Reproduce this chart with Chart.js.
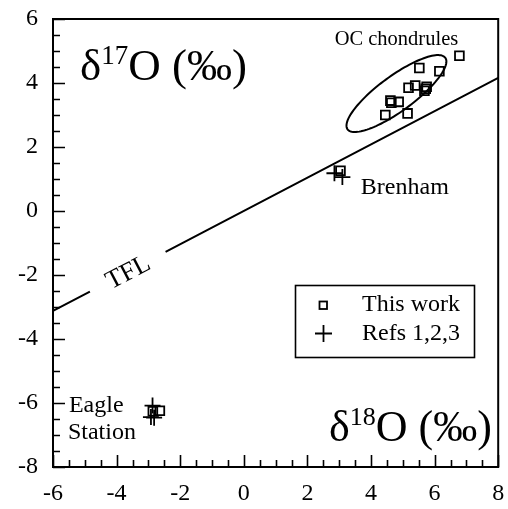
<!DOCTYPE html>
<html>
<head>
<meta charset="utf-8">
<script src="https://cdn.jsdelivr.net/npm/chart.js@4.4.0/dist/chart.umd.min.js"></script>
<style>
html,body{margin:0;padding:0;background:#fff;}
#wrap{width:508px;height:509px;}
</style>
</head>
<body>
<div id="wrap"><canvas id="c" width="508" height="509"></canvas></div>
<script>
// ---- data ----
const thisWorkX = [6.78, 5.52, 6.15, 5.18, 5.39, 5.75, 5.68, 5.72, 4.61, 4.64, 4.87, 4.45, 5.15, 3.04, -2.86, -2.64];
const thisWorkY = [4.85, 4.47, 4.37, 3.85, 3.92, 3.88, 3.76, 3.82, 3.45, 3.38, 3.41, 3.00, 3.05, 1.26, -6.26, -6.24];
const refsX = [2.85, 3.10, -2.87, -2.92, -2.82];
const refsY = [1.18, 1.06, -6.08, -6.44, -6.46];
// Terrestrial fractionation line (broken where the "TFL" label sits)
const tflX = [-6, -4.84, null, -2.46, 8];
const tflY = [-3.12, -2.52, null, -1.28, 4.16];
const xTickValues = [-6, -4, -2, 0, 2, 4, 6, 8];
const yTickValues = [-8, -6, -4, -2, 0, 2, 4, 6];
const seriesNames = ['This work', 'Refs 1,2,3'];
// OC chondrule field ellipse (data units)
const ellipseCenter = [4.80, 3.67];
const ellipseAxes = [1.9, 0.55];
const ellipseAngleDeg = 36;

const FONT = "'Liberation Serif', 'Times New Roman', serif";

const pts = (xs, ys) => xs.map((x, i) => ({x: x, y: ys[i]}));
const tflData = tflX.map((x, i) => x === null ? {x: -3.6, y: null} : {x: x, y: tflY[i]});

function deltaLabel(ctx, x, y, digits, size) {
  ctx.save();
  ctx.fillStyle = '#000';
  ctx.textAlign = 'left';
  ctx.textBaseline = 'alphabetic';
  ctx.font = size + 'px ' + FONT;
  ctx.fillText('\u03B4', x, y);
  let w = ctx.measureText('\u03B4').width;
  const sSize = Math.round(size * 0.6);
  ctx.font = sSize + 'px ' + FONT;
  ctx.fillText(digits, x + w, y - size * 0.36);
  w += ctx.measureText(digits).width;
  ctx.font = size + 'px ' + FONT;
  ctx.fillText('O (\u2030)', x + w, y);
  ctx.restore();
}

const decor = {
  id: 'decor',
  afterDatasetsDraw(chart) {
    const ctx = chart.ctx;
    const xs = chart.scales.x, ys = chart.scales.y;
    const a = chart.chartArea;
    ctx.save();
    ctx.strokeStyle = '#000';
    ctx.fillStyle = '#000';
    // ellipse
    ctx.lineWidth = 2;
    ctx.beginPath();
    const th = ellipseAngleDeg * Math.PI / 180;
    for (let k = 0; k <= 120; k++) {
      const t = k / 120 * 2 * Math.PI;
      const dx = ellipseAxes[0] * Math.cos(t), dy = ellipseAxes[1] * Math.sin(t);
      const vx = ellipseCenter[0] + dx * Math.cos(th) - dy * Math.sin(th);
      const vy = ellipseCenter[1] + dx * Math.sin(th) + dy * Math.cos(th);
      const px = xs.getPixelForValue(vx), py = ys.getPixelForValue(vy);
      if (k === 0) ctx.moveTo(px, py); else ctx.lineTo(px, py);
    }
    ctx.closePath();
    ctx.stroke();

    // frame
    ctx.lineWidth = 2;
    ctx.strokeRect(a.left, a.top, a.right - a.left, a.bottom - a.top);
    // ticks (inside), major every 2, minor every 0.5
    ctx.lineWidth = 1.6;
    ctx.beginPath();
    for (let v = xs.min; v <= xs.max + 1e-9; v += 0.5) {
      const px = Math.round(xs.getPixelForValue(v)) + 0.5;
      const major = Math.abs(v / 2 - Math.round(v / 2)) < 1e-9;
      const len = major ? 12 : 7;
      ctx.moveTo(px, a.bottom); ctx.lineTo(px, a.bottom - len);
    }
    for (let v = ys.min; v <= ys.max + 1e-9; v += 0.5) {
      const py = Math.round(ys.getPixelForValue(v)) + 0.5;
      const major = Math.abs(v / 2 - Math.round(v / 2)) < 1e-9;
      const len = major ? 12 : 7;
      ctx.moveTo(a.left, py); ctx.lineTo(a.left + len, py);
    }
    ctx.stroke();

    // text annotations
    ctx.textBaseline = 'middle';
    ctx.textAlign = 'center';
    ctx.font = '20.5px ' + FONT;
    ctx.fillText('OC chondrules', xs.getPixelForValue(4.80), ys.getPixelForValue(5.37));
    ctx.font = '24px ' + FONT;
    ctx.textAlign = 'left';
    ctx.fillText('Brenham', xs.getPixelForValue(3.68), ys.getPixelForValue(0.72));
    ctx.fillText('Eagle', xs.getPixelForValue(-5.50), ys.getPixelForValue(-6.09));
    ctx.fillText('Station', xs.getPixelForValue(-5.53), ys.getPixelForValue(-6.94));
    // TFL rotated label
    ctx.save();
    const tx = xs.getPixelForValue(-3.63), ty = ys.getPixelForValue(-1.93);
    const ang = Math.atan2(ys.getPixelForValue(4.16) - ys.getPixelForValue(-3.12), xs.getPixelForValue(8) - xs.getPixelForValue(-6));
    ctx.translate(tx, ty);
    ctx.rotate(ang);
    ctx.textAlign = 'center';
    ctx.font = '26px ' + FONT;
    ctx.fillText('TFL', 0, 0);
    ctx.restore();

    // axis titles
    deltaLabel(ctx, 80, 80, '17', 45);
    deltaLabel(ctx, 329, 441, '18', 44);

    // legend
    ctx.lineWidth = 1.6;
    ctx.strokeRect(295.5, 285.5, 179, 72);
    ctx.lineWidth = 1.8;
    ctx.strokeRect(319.5, 301.5, 7.5, 7.5);
    ctx.beginPath();
    ctx.moveTo(323.5, 325); ctx.lineTo(323.5, 342);
    ctx.moveTo(315, 333.5); ctx.lineTo(332, 333.5);
    ctx.stroke();
    ctx.font = '24px ' + FONT;
    ctx.textAlign = 'left';
    ctx.textBaseline = 'middle';
    ctx.fillText(seriesNames[0], 362, 305);
    ctx.fillText(seriesNames[1], 362, 334);
    ctx.restore();
  }
};

function zeroPad(s) { s.paddingTop = 0; s.paddingBottom = 0; s.paddingLeft = 0; s.paddingRight = 0; }

new Chart(document.getElementById('c'), {
  type: 'scatter',
  data: {
    datasets: [
      {
        label: 'TFL', type: 'line', data: tflData, showLine: true, spanGaps: false,
        borderColor: '#000', borderWidth: 2, pointRadius: 0, fill: false, order: 3
      },
      {
        label: seriesNames[0], data: pts(thisWorkX, thisWorkY), pointStyle: 'rect',
        pointRadius: 6.2, pointBorderWidth: 1.8, pointBorderColor: '#000',
        pointBackgroundColor: 'rgba(255,255,255,0)', order: 2
      },
      {
        label: seriesNames[1], data: pts(refsX, refsY), pointStyle: 'cross',
        pointRadius: 8, pointBorderWidth: 1.8, pointBorderColor: '#000', order: 1
      }
    ]
  },
  options: {
    responsive: false,
    animation: false,
    layout: {padding: {top: 19, right: 8, left: 0, bottom: 0}},
    plugins: {legend: {display: false}, tooltip: {enabled: false}},
    scales: {
      x: {
        type: 'linear', min: -6, max: 8,
        afterBuildTicks(s) { s.ticks = xTickValues.map(v => ({value: v})); },
        afterFit(s) { s.height = 42; zeroPad(s); },
        grid: {display: false, drawTicks: false},
        border: {display: false},
        ticks: {color: '#000', padding: 12, maxRotation: 0, autoSkip: false, font: {family: FONT, size: 24}}
      },
      y: {
        type: 'linear', min: -8, max: 6,
        afterBuildTicks(s) { s.ticks = yTickValues.map(v => ({value: v})); },
        afterFit(s) { s.width = 53; zeroPad(s); },
        grid: {display: false, drawTicks: false},
        border: {display: false},
        ticks: {color: '#000', padding: 15, autoSkip: false, font: {family: FONT, size: 24}}
      }
    }
  },
  plugins: [decor]
});
</script>
</body>
</html>
